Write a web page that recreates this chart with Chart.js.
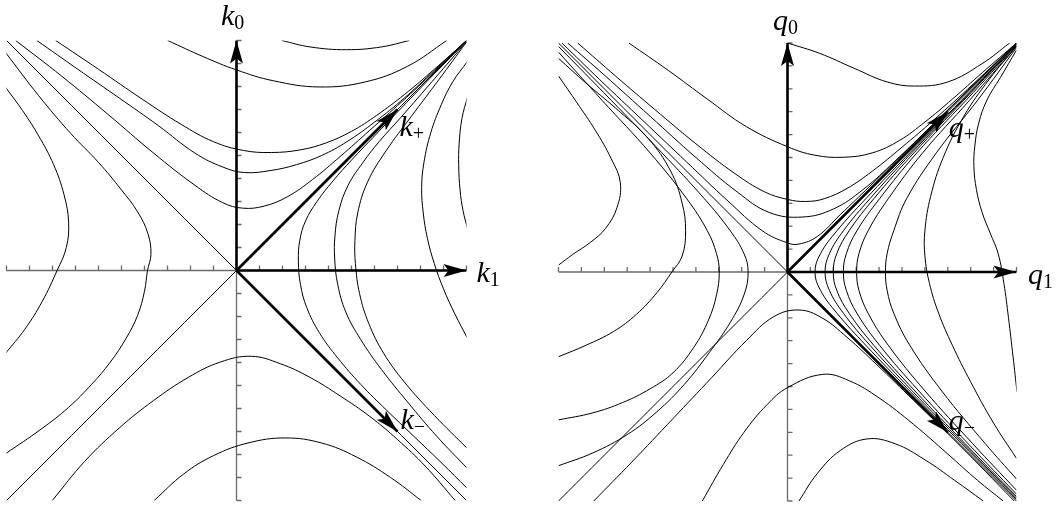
<!DOCTYPE html>
<html>
<head>
<meta charset="utf-8">
<script src="https://cdn.jsdelivr.net/npm/chart.js@4.4.0/dist/chart.umd.min.js"></script>
<style>
  html, body { margin: 0; padding: 0; background: #fff; }
  #wrap { position: relative; width: 1062px; height: 509px; }
  #wrap canvas { position: absolute; top: 0; }
  .lbl {
    position: absolute; white-space: nowrap; color: #000;
    font-family: "Liberation Serif", "Times New Roman", "DejaVu Serif", serif;
    font-size: 30px; line-height: 30px;
  }
  .lbl i { font-style: italic; }
  .lbl span { font-size: 20px; position: relative; top: 4px; margin-left: 0; }
</style>
</head>
<body>
<div id="wrap">
  <canvas id="kChart" width="531" height="509" style="left:0"></canvas>
  <canvas id="qChart" width="531" height="509" style="left:531px"></canvas>
</div>
<script>
// ---- data (axis units, both panels run -10..10) ----
const tickValues = [-10, -9, -8, -7, -6, -5, -4, -3, -2, -1, 1, 2, 3, 4, 5, 6, 7, 8, 9, 10];

// left panel: k-space contours
const kDiagonals = [
  [[-10, 10], [10, -10]],
  [[-10, -10], [10, 10]],
];
const kUpper = [
  [[1.97, 10], [3.2, 9.72], [4.78, 9.6], [6.3, 9.72], [7.51, 10]],
  [[-2.99, 10], [-1.45, 9.3], [0, 8.72], [1.6, 8.25], [3.59, 7.98], [5.6, 8.2], [7.44, 8.88], [9.14, 10]],
  [[-7.86, 10], [-6.0, 8.75], [-4.1, 7.45], [-2.4, 6.35], [-1.0, 5.6], [0.3, 5.22], [1.52, 5.13], [2.8, 5.25], [3.9, 5.55], [5.0, 6.05], [6.1, 6.75], [7.3, 7.65], [8.6, 8.75], [10, 10]],
  [[-8.68, 10], [-6.9, 8.75], [-5.1, 7.5], [-3.4, 6.3], [-1.8, 5.1], [-0.6, 4.5], [0.34, 4.26], [1.5, 4.35], [2.6, 4.6], [3.7, 5.0], [4.8, 5.6], [6.0, 6.45], [7.3, 7.5], [8.6, 8.7], [10, 10]],
  [[-9.6, 10], [-7.6, 8.45], [-5.6, 6.8], [-3.6, 5.1], [-1.8, 3.7], [-0.6, 2.95], [0.27, 2.71], [1.2, 2.8], [2.2, 3.2], [3.3, 3.95], [4.5, 4.95], [5.8, 6.1], [7.2, 7.35], [8.6, 8.65], [10, 10]],
];
const kLeft = [
  [[-10.05, 7.98], [-9.3, 6.95], [-8.6, 5.85], [-7.95, 4.6], [-7.5, 3.3], [-7.3, 2.1], [-7.4, 1.0], [-7.8, 0], [-8.45, -1.35], [-9.2, -2.55], [-10.05, -3.61]],
  [[-10.05, 9.49], [-8.6, 7.6], [-7.2, 5.95], [-6.0, 4.7], [-5.0, 3.5], [-4.3, 2.55], [-3.85, 1.6], [-3.72, 0.7], [-3.87, 0], [-4.0, -0.9], [-4.3, -1.95], [-4.8, -2.95], [-5.5, -4.0], [-6.3, -4.95], [-7.3, -5.95], [-8.5, -6.9], [-10.05, -7.97]],
];
const kRight = [
  [[10, 9.97], [8.6, 8.55], [7.2, 7.1], [6.0, 5.85], [5.0, 4.8], [4.2, 3.9], [3.5, 3.0], [3.0, 2.15], [2.75, 1.3], [2.69, 0.4], [2.78, -0.6], [3.05, -1.6], [3.6, -2.7], [4.4, -3.8], [5.4, -4.95], [6.5, -6.05], [7.7, -7.2], [8.9, -8.35], [10.05, -9.49]],
  [[10, 9.95], [8.62, 8.35], [7.14, 6.65], [6.2, 5.6], [5.5, 4.7], [4.85, 3.7], [4.45, 2.6], [4.28, 1.5], [4.27, 0.5], [4.4, -0.6], [4.75, -1.8], [5.4, -3.0], [6.3, -4.3], [7.44, -5.72], [8.7, -7.2], [10.05, -8.62]],
  [[10, 9.93], [8.8, 8.3], [7.6, 6.7], [6.5, 5.2], [5.7, 3.85], [5.27, 2.5], [5.15, 1.3], [5.17, 0.3], [5.35, -1.0], [5.75, -2.3], [6.4, -3.6], [7.3, -4.85], [8.6, -6.3], [10.05, -7.75]],
  [[10.05, 9.1], [9.4, 8.2], [8.9, 7.2], [8.45, 6.0], [8.15, 4.7], [8.05, 3.6], [8.12, 2.5], [8.3, 1.4], [8.6, 0.3], [9.0, -0.8], [9.5, -1.9], [10.05, -2.96]],
  [[10.05, 7.57], [9.8, 6.6], [9.68, 5.5], [9.66, 4.6], [9.72, 3.5], [9.85, 2.6], [10.05, 1.8]],
];
const kLower = [
  [[-8.01, -10], [-6.6, -8.3], [-5.1, -6.85], [-3.6, -5.65], [-2.1, -4.65], [-0.7, -3.98], [0.64, -3.73], [1.9, -4.05], [3.2, -4.65], [4.5, -5.45], [5.8, -6.35], [7.0, -7.35], [8.2, -8.5], [9.51, -10]],
  [[-3.58, -10], [-2.3, -8.85], [-1.0, -8.05], [0.5, -7.5], [2.12, -7.28], [3.7, -7.5], [5.2, -8.1], [6.7, -9.0], [8.03, -10]],
];

// right panel: q-space contours
const qDiagonals = [
  [[-10, 10], [10, -10]],
  [[-10, -10], [10, 10]],
];
const qUpper = [
  [[0, 10], [1.4, 9.55], [2.9, 8.9], [4.35, 8.3], [5.55, 8.12], [7.0, 8.3], [8.5, 9.1], [9.7, 10]],
  [[-6.93, 10], [-5.2, 8.8], [-3.5, 7.55], [-1.8, 6.35], [0, 5.47], [1.2, 5.1], [2.43, 5.01], [3.7, 5.2], [4.9, 5.75], [6.0, 6.55], [7.2, 7.55], [8.5, 8.7], [10, 10]],
  [[-9.16, 10], [-7.5, 8.55], [-5.8, 7.1], [-4.0, 5.6], [-2.3, 4.3], [-1.0, 3.5], [0, 3.17], [0.8, 3.08], [1.6, 3.2], [2.6, 3.65], [3.7, 4.4], [5.0, 5.45], [6.4, 6.65], [8.1, 8.2], [10, 10]],
  [[-9.6, 10], [-8.0, 8.6], [-6.0, 6.8], [-4.0, 5.0], [-2.2, 3.5], [-0.8, 2.6], [0.65, 2.4], [2.0, 2.75], [3.3, 3.6], [4.7, 4.85], [6.3, 6.4], [8.1, 8.15], [10, 10]],
  [[-9.85, 10], [-8.2, 8.4], [-6.3, 6.6], [-4.4, 4.8], [-2.6, 3.1], [-1.1, 1.8], [0, 1.27], [0.5, 1.22], [1.3, 1.55], [2.3, 2.5], [3.6, 3.75], [5.5, 5.6], [7.5, 7.55], [10, 10]],
];
const qLeft = [
  [[-10, 8.56], [-9.2, 7.4], [-8.4, 6.2], [-7.7, 4.95], [-7.3, 3.9], [-7.45, 2.8], [-7.95, 1.9], [-8.6, 1.3], [-9.4, 0.75], [-10, 0.3]],
  [[-10, 9.33], [-8.8, 8.25], [-7.5, 7.15], [-6.1, 5.85], [-5.1, 4.4], [-4.6, 3.0], [-4.45, 1.8], [-4.6, 0.7], [-5.05, 0], [-5.7, -0.9], [-6.6, -1.85], [-7.6, -2.6], [-8.8, -3.2], [-10, -3.7]],
  [[-10, 9.6], [-8.1, 7.5], [-6.0, 5.2], [-4.4, 3.2], [-3.5, 1.8], [-3.1, 0.8], [-2.98, 0], [-3.1, -1.0], [-3.45, -2.1], [-4.1, -3.3], [-5.0, -4.4], [-6.0, -5.1], [-7.2, -5.7], [-8.5, -6.15], [-10, -6.46]],
  [[-10, 9.85], [-7.7, 7.5], [-5.48, 5.2], [-3.63, 3.2], [-2.5, 1.8], [-1.9, 0.8], [-1.72, 0], [-1.9, -1.0], [-2.5, -2.2], [-3.4, -3.5], [-4.5, -4.9], [-5.7, -6.1], [-7.0, -7.1], [-8.5, -7.9], [-10, -8.46]],
];
const qRight = [
  [[10, 9.97], [7.6, 7.5], [5.34, 5.2], [3.42, 3.2], [2.16, 1.8], [1.44, 0.8], [1.2, 0], [1.44, -0.8], [2.16, -1.8], [3.42, -3.2], [5.34, -5.2], [7.6, -7.5], [10, -9.93]],
  [[10, 9.95], [7.65, 7.5], [5.42, 5.2], [3.6, 3.2], [2.44, 1.8], [1.83, 0.8], [1.64, 0], [1.83, -0.8], [2.44, -1.8], [3.6, -3.2], [5.45, -5.2], [7.68, -7.5], [10, -9.87]],
  [[10, 9.93], [7.7, 7.5], [5.52, 5.2], [3.77, 3.2], [2.69, 1.8], [2.15, 0.8], [2.0, 0], [2.15, -0.8], [2.69, -1.8], [3.77, -3.2], [5.57, -5.2], [7.76, -7.5], [10, -9.8]],
  [[10, 9.9], [7.8, 7.5], [5.65, 5.2], [4.02, 3.2], [3.03, 1.8], [2.57, 0.8], [2.44, 0], [2.57, -0.8], [3.03, -1.8], [4.02, -3.2], [5.74, -5.2], [7.89, -7.5], [10, -9.7]],
  [[10, 9.87], [7.95, 7.5], [5.9, 5.2], [4.4, 3.2], [3.52, 1.8], [3.12, 0.8], [3.02, 0], [3.12, -0.8], [3.52, -1.8], [4.4, -3.2], [6.01, -5.2], [8.09, -7.5], [10, -9.53]],
  [[10, 9.8], [8.3, 7.5], [6.5, 5.2], [5.2, 3.2], [4.64, 1.8], [4.35, 0.8], [4.28, 0], [4.35, -0.8], [4.64, -1.8], [5.34, -3.2], [6.74, -5.2], [8.64, -7.5], [10, -9.04]],
  [[10, 9.85], [8.8, 8.4], [7.7, 6.8], [6.8, 5.0], [6.25, 3.3], [6.0, 1.8], [6.0, 0.7], [6.2, -0.5], [6.6, -1.8], [7.2, -3.2], [8.0, -4.8], [9.0, -6.6], [10, -8.14]],
  [[10, 9.69], [9.3, 8.5], [8.71, 7.51], [8.35, 6.5], [8.18, 5.5], [8.14, 4.6], [8.25, 3.6], [8.5, 2.6], [8.85, 1.7], [9.2, 0.8], [9.45, -0.5], [9.65, -2.0], [9.85, -3.7], [10.02, -5.23]],
];
const qLower = [
  [[-8.46, -10], [-6.8, -8.3], [-5.0, -6.4], [-3.3, -4.6], [-1.8, -3.0], [-0.6, -1.95], [0.5, -1.66], [1.5, -2.0], [2.6, -2.85], [3.9, -4.05], [5.5, -5.6], [7.4, -7.45], [9.9, -10]],
  [[-3.72, -10], [-2.8, -8.4], [-1.9, -7.0], [-0.9, -5.8], [0, -5.05], [1.54, -4.47], [2.7, -4.75], [4.0, -5.5], [5.5, -6.65], [7.0, -7.95], [8.3, -9.1], [9.42, -10]],
  [[0.5, -10], [1.3, -8.8], [2.3, -7.8], [3.47, -7.29], [4.7, -7.5], [6.0, -8.2], [7.3, -9.1], [8.55, -10]],
];

// arrows from the origin, and their labels
const kArrows = [[10, 0], [0, 10], [7, 7], [7, -7]];
const qArrows = [[10, 0], [0, 10], [7, 7], [7, -7]];
const kLabels = [['k', '1'], ['k', '0'], ['k', '+'], ['k', '\u2212']];
const qLabels = [['q', '1'], ['q', '0'], ['q', '+'], ['q', '\u2212']];

// ---- drawing ----
function curveSet(list) {
  return list.map(pts => ({
    data: pts.map(([x, y]) => ({ x, y })),
    showLine: true,
    borderColor: '#000',
    borderWidth: 1,
    pointRadius: 0,
    tension: 0.4,
    fill: false,
  }));
}

function arrowSet(list) {
  return list.map(([x, y]) => ({
    data: [{ x: 0, y: 0 }, { x, y }],
    showLine: true,
    borderColor: '#000',
    borderWidth: 2.6,
    pointRadius: 0,
    tension: 0,
  }));
}

function drawHead(ctx, x0, y0, x1, y1) {
  const a = Math.atan2(y1 - y0, x1 - x0);
  ctx.save();
  ctx.translate(x1, y1);
  ctx.rotate(a);
  ctx.beginPath();
  ctx.moveTo(0, 0);
  ctx.lineTo(-23, -6.5);
  ctx.lineTo(-18, 0);
  ctx.lineTo(-23, 6.5);
  ctx.closePath();
  ctx.fillStyle = '#000';
  ctx.fill();
  ctx.restore();
}

const axesPlugin = {
  id: 'axes',
  beforeDatasetsDraw(chart) {
    const { ctx, scales: { x, y } } = chart;
    const x0 = x.getPixelForValue(0), y0 = y.getPixelForValue(0);
    ctx.save();
    ctx.strokeStyle = '#6a6a6a';
    ctx.lineWidth = 1.3;
    ctx.beginPath();
    ctx.moveTo(x.getPixelForValue(-10), y0);
    ctx.lineTo(x.getPixelForValue(10), y0);
    ctx.moveTo(x0, y.getPixelForValue(-10));
    ctx.lineTo(x0, y.getPixelForValue(10));
    tickValues.forEach(v => {
      const px = x.getPixelForValue(v), py = y.getPixelForValue(v);
      ctx.moveTo(px, y0);
      ctx.lineTo(px, y0 - 5);
      ctx.moveTo(x0, py);
      ctx.lineTo(x0 + 5, py);
    });
    ctx.stroke();
    ctx.restore();
  },
  afterDatasetsDraw(chart, args, opts) {
    const { ctx, scales: { x, y } } = chart;
    const x0 = x.getPixelForValue(0), y0 = y.getPixelForValue(0);
    opts.arrows.forEach(([ax, ay]) => {
      drawHead(ctx, x0, y0, x.getPixelForValue(ax), y.getPixelForValue(ay));
    });
  },
};

function makeChart(id, curves, arrows, padding) {
  return new Chart(document.getElementById(id), {
    type: 'scatter',
    data: { datasets: [...curveSet(curves), ...arrowSet(arrows)] },
    options: {
      responsive: false,
      animation: false,
      layout: { padding },
      scales: {
        x: { type: 'linear', min: -10, max: 10, display: false },
        y: { type: 'linear', min: -10, max: 10, display: false },
      },
      plugins: {
        legend: { display: false },
        tooltip: { enabled: false },
        axes: { arrows },
      },
    },
    plugins: [axesPlugin],
  });
}

// arrow-end labels as real text, placed from the chart scales
function addLabels(chart, left, arrows, labels, offsets) {
  const wrap = document.getElementById('wrap');
  const { x, y } = chart.scales;
  arrows.forEach(([ax, ay], i) => {
    const [base, sub] = labels[i];
    const [dx, dy] = offsets[i];
    const el = document.createElement('div');
    el.className = 'lbl';
    el.innerHTML = '<i>' + base + '</i><span>' + sub + '</span>';
    el.style.left = (left + x.getPixelForValue(ax) + dx) + 'px';
    el.style.top = (y.getPixelForValue(ay) + dy - 25) + 'px';
    wrap.appendChild(el);
  });
}

const kChart = makeChart('kChart',
  [...kDiagonals, ...kUpper, ...kLeft, ...kRight, ...kLower],
  kArrows, { left: 6.5, top: 40.5, right: 64.5, bottom: 8.5 });
addLabels(kChart, 0, kArrows, kLabels, [[10, 11], [-15.5, -15.5], [2, 26], [3, -3]]);

const qChart = makeChart('qChart',
  [...qDiagonals, ...qUpper, ...qLeft, ...qRight, ...qLower],
  qArrows, { left: 27.5, top: 43, right: 45.5, bottom: 8 });
addLabels(qChart, 531, qArrows, qLabels, [[11.5, 12], [-14.5, -13], [1, 25], [1, -2]]);
</script>
</body>
</html>
